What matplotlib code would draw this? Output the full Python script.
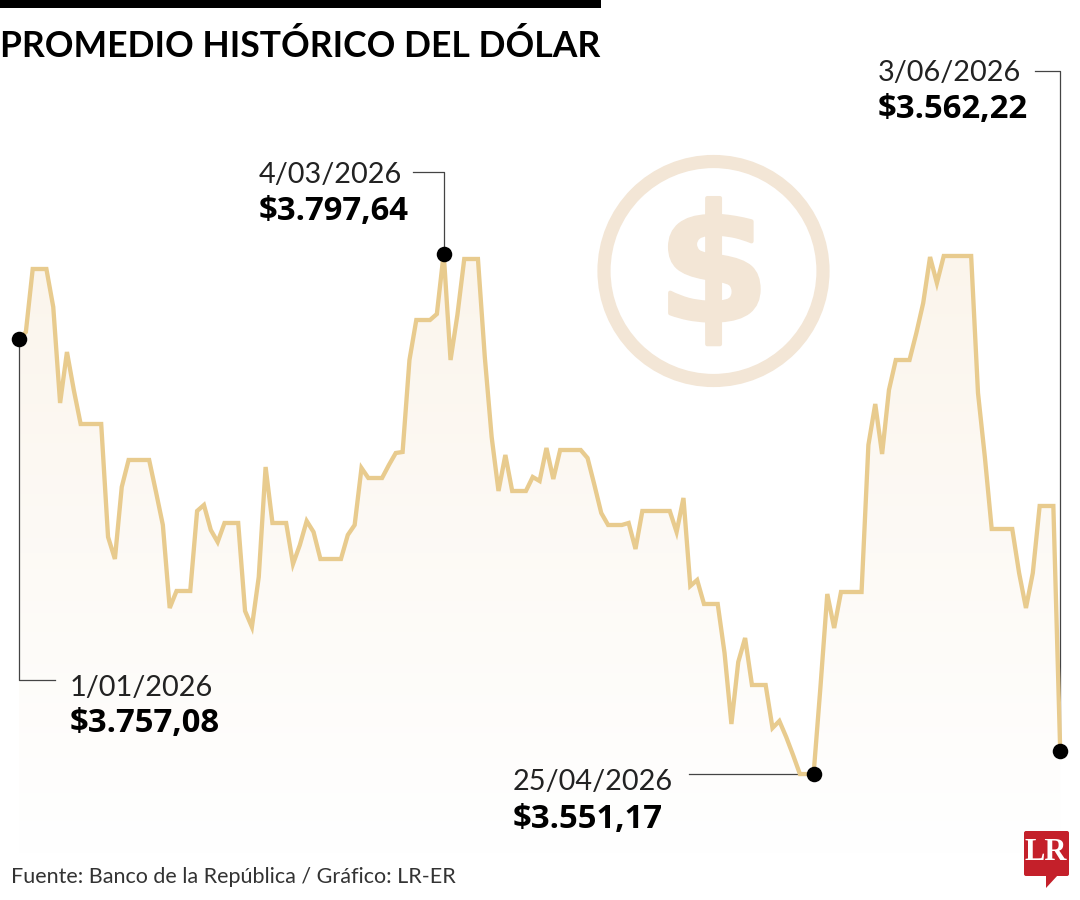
import numpy as np
import matplotlib
matplotlib.use('Agg')
import matplotlib.pyplot as plt
import matplotlib.patheffects as pe
from matplotlib.patches import Circle, FancyBboxPatch, Polygon

# daily average of the dollar, in pesos
dolar = [3757.08, 3760.47, 3790.30, 3790.30, 3790.30, 3772.31, 3726.86, 3751.00, 3733.01,
         3716.91, 3716.91, 3716.91, 3716.91, 3663.41, 3653.00, 3687.08,
         3699.87, 3699.87, 3699.87, 3699.87, 3684.72, 3669.09, 3629.79,
         3637.84, 3637.84, 3637.84, 3675.72, 3678.56, 3666.72, 3661.04,
         3670.04, 3670.04, 3670.04, 3628.37, 3620.80, 3644.47, 3696.55,
         3670.04, 3670.04, 3670.04, 3650.63, 3659.62, 3670.98, 3665.78,
         3652.99, 3652.99, 3652.99, 3652.99, 3664.36, 3669.09, 3696.08,
         3691.34, 3691.34, 3691.34, 3697.50, 3703.18, 3703.66, 3747.21,
         3766.15, 3766.15, 3766.15, 3768.99, 3797.64, 3747.21, 3768.52,
         3795.04, 3795.04, 3795.04, 3748.63, 3710.76, 3685.19, 3702.24,
         3685.19, 3685.19, 3685.19, 3691.82, 3689.92, 3705.55, 3690.87,
         3704.60, 3704.60, 3704.60, 3704.60, 3700.81, 3688.03, 3674.77,
         3669.09, 3669.09, 3669.09, 3670.04, 3657.73,
         3675.72, 3675.72, 3675.72, 3675.72, 3675.72, 3665.78, 3681.88,
         3640.21, 3643.05, 3631.69, 3631.69, 3631.69, 3608.49, 3574.87,
         3604.22, 3615.59, 3593.33, 3593.33, 3593.33, 3572.97, 3576.29,
         3568.71, 3560.19, 3551.17, 3551.17, 3551.17, 3592.39, 3636.42,
         3620.32, 3637.37, 3637.37, 3637.37, 3637.37, 3706.97, 3726.38,
         3702.71, 3733.01, 3747.21, 3747.21, 3747.21, 3760.00, 3774.20,
         3795.98, 3783.67, 3796.46, 3796.46, 3796.46, 3796.46, 3796.46,
         3731.59, 3701.29, 3667.20, 3667.20, 3667.20, 3667.20, 3646.36,
         3629.79, 3646.36, 3678.09, 3678.09, 3678.09, 3562.22]

# the four points that get a label
puntos = [0, 62, 116, 152]
fechas = ['1/01/2026', '4/03/2026', '25/04/2026', '3/06/2026']
valores = ['$3.757,08', '$3.797,64', '$3.551,17', '$3.562,22']

titulo = 'PROMEDIO HISTÓRICO DEL DÓLAR'
fuente = 'Fuente: Banco de la República / Gráfico: LR-ER'

LINEA = '#E8CB8E'
ICONO = '#F3E6D6'
GRIS = '#444444'

W, H = 1080, 900
x0, dx = 19, 6.85
y0, dy = 253.5, 2.112

fig = plt.figure(figsize=(W / 100, H / 100), dpi=100, facecolor='white')


def ejes_datos():
    # data axes over the whole figure
    a = fig.add_axes([0, 0, 1, 1])
    a.set_xlim(-x0 / dx, (W - x0) / dx)
    a.set_ylim(dolar[62] - (H - y0) / dy, dolar[62] + y0 / dy)
    a.axis('off')
    a.patch.set_alpha(0)
    return a


ax = ejes_datos()

# overlay in pixels for text and decoration
px = fig.add_axes([0, 0, 1, 1])
px.set_xlim(0, W)
px.set_ylim(H, 0)
px.axis('off')
px.patch.set_alpha(0)

# line and points go over the leader lines
top = ejes_datos()

x = np.arange(len(dolar))
y = np.array(dolar)

# fill under the line, fades out to white towards the bottom
fondo = ax.fill_between(x, y, y.min() - 40, color='none')
grad = np.linspace(0, 1, 256).reshape(-1, 1)
cmap = matplotlib.colors.LinearSegmentedColormap.from_list('f', ['#FBF5EC', '#FFFFFF'])
img = ax.imshow(grad, cmap=cmap, aspect='auto', zorder=1,
                extent=[x[0], x[-1], y.min() - 38, y.max()], interpolation='bilinear')
ax.set_xlim(-x0 / dx, (W - x0) / dx)
ax.set_ylim(dolar[62] - (H - y0) / dy, dolar[62] + y0 / dy)
img.set_clip_path(fondo.get_paths()[0], transform=ax.transData)

top.plot(x, y, color=LINEA, lw=3.1, solid_joinstyle='miter', zorder=2)
top.scatter(x[puntos], y[puntos], s=125, color='black', linewidths=0, zorder=5)


def a_pixel(i):
    return x0 + dx * i, y0 + (dolar[62] - dolar[i]) * dy


# leader lines from the points to the labels
xa, ya = a_pixel(puntos[0])
px.plot([xa, xa, 55], [ya, 680, 680], color=GRIS, lw=0.9)
xa, ya = a_pixel(puntos[1])
px.plot([xa, xa, 413], [ya, 172, 172], color=GRIS, lw=0.9)
xa, ya = a_pixel(puntos[2])
px.plot([xa, 689], [ya, ya], color=GRIS, lw=0.9, zorder=1)
xa, ya = a_pixel(puntos[3])
px.plot([xa, xa, 1035], [ya, 71, 71], color=GRIS, lw=0.9, zorder=1)

pos_fecha = [(70, 688), (259, 175), (513, 782), (878, 73)]
pos_valor = [(70, 724), (259, 211), (513, 819), (878, 110)]
for k in range(4):
    px.text(pos_fecha[k][0], pos_fecha[k][1], fechas[k], fontsize=20.8, family='Lato',
            fontweight='normal', color='#222222', va='center', ha='left')
    px.text(pos_valor[k][0], pos_valor[k][1], valores[k], fontsize=23.7, family='Open Sans',
            fontweight='bold', color='black', va='center', ha='left')

# header
px.fill_between([0, 601], 0, 8, color='black', linewidth=0)
px.text(0, 57, titulo, fontsize=25.6, family='Lato', fontweight='bold', color='black',
        va='baseline', ha='left')

# dollar icon
px.add_patch(Circle((713.5, 271), 109.5, fill=False, ec=ICONO, lw=9.5))
signo = px.text(713.5, 276, '$', fontsize=116, family='DejaVu Sans', fontweight='bold', color=ICONO,
                va='center', ha='center')
signo.set_path_effects([pe.withStroke(linewidth=3, foreground=ICONO)])

# footer and logo
px.text(11, 877, fuente, fontsize=15.5, family='Lato', color='#333333', va='center', ha='left')
px.add_patch(FancyBboxPatch((1026, 833), 41, 41, boxstyle='round,pad=2,rounding_size=2',
                            fc='#C4202A', ec='none'))
px.add_patch(Polygon([(1046, 875), (1046, 888), (1058, 875)], fc='#C4202A', ec='none'))
px.text(1046, 853, 'LR', fontsize=22, family='Liberation Serif', fontweight='bold',
        color='white', va='center', ha='center')

plt.savefig('out.png', dpi=100)
